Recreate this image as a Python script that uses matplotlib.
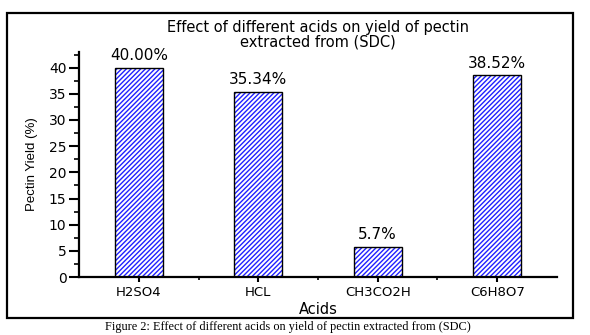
"""
Effect of different acids on yield of pectin
"""
import matplotlib
matplotlib.use('Agg')
import matplotlib.pyplot as plt
import matplotlib.patches as mpatches
from matplotlib.ticker import MultipleLocator

acids = ['H2SO4', 'HCL', 'CH3CO2H', 'C6H8O7']
yields = [40.00, 35.34, 5.7, 38.52]
bar_labels = ['40.00%', '35.34%', '5.7%', '38.52%']


def show_chart():
    plt.rcParams['font.family'] = ['DejaVu Sans']
    fig = plt.figure(figsize=(5.9, 3.35), dpi=100)
    ax = fig.add_axes([0.134, 0.173, 0.81, 0.672])

    x = range(len(acids))
    # blue hatch first, black outline on top
    ax.bar(x, yields, width=0.4, color='white', edgecolor='#2020ff',
           hatch='///////', linewidth=0, zorder=2)
    ax.bar(x, yields, width=0.4, fill=False, edgecolor='black',
           linewidth=1.0, zorder=3)
    for xi, v, t in zip(x, yields, bar_labels):
        ax.text(xi, v + 0.9, t, ha='center', va='bottom', fontsize=11)

    ax.set_xlim(-0.5, 3.5)
    ax.set_ylim(0, 43)
    ax.set_xticks(list(x))
    ax.set_xticklabels(acids, fontsize=9.5)
    ax.set_xticks([0.5, 1.5, 2.5], minor=True)
    ax.yaxis.set_major_locator(MultipleLocator(5))
    ax.yaxis.set_minor_locator(MultipleLocator(2.5))
    ax.tick_params(axis='y', labelsize=10, width=1.5, length=7, pad=2)
    ax.tick_params(axis='y', which='minor', width=1.2, length=3.5)
    ax.tick_params(axis='x', width=1.5, length=3.5, pad=3)
    ax.tick_params(axis='x', which='minor', width=1.2, length=2)
    for s in ['top', 'right']:
        ax.spines[s].set_visible(False)
    for s in ['left', 'bottom']:
        ax.spines[s].set_linewidth(1.6)

    ax.set_xlabel('Acids', fontsize=10.5, labelpad=2)
    ax.set_ylabel('Pectin Yield (%)', fontsize=9.5, labelpad=8,
                  family=['Liberation Sans Narrow', 'Liberation Sans'])
    ax.set_title('Effect of different acids on yield of pectin\nextracted from (SDC)',
                 fontsize=10.5, linespacing=0.95, pad=4)

    # outer frame
    frame = mpatches.Rectangle((7 / 590, 1 - 318 / 335), 566 / 590, 305 / 335,
                               transform=fig.transFigure, fill=False,
                               edgecolor='black', linewidth=1.6)
    fig.patches.append(frame)
    fig.text(0.488, 1 - 327 / 335,
             'Figure 2: Effect of different acids on yield of pectin extracted from (SDC)',
             ha='center', va='center', fontsize=8.8, family='Liberation Serif')

    fig.savefig('out.png', dpi=100)


if __name__ == '__main__':
    show_chart()
